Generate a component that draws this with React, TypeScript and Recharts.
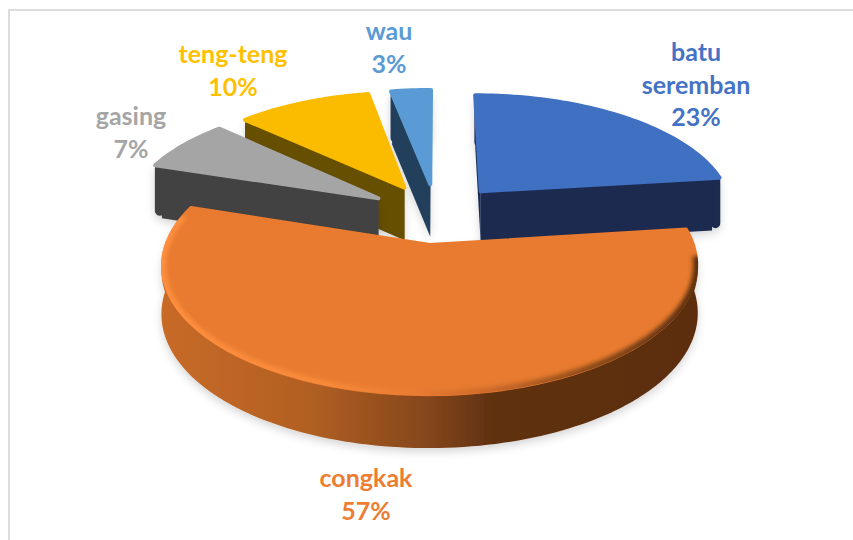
import React from "react";
import { PieChart, Pie } from "recharts";

const names = ["batu seremban", "wau", "teng-teng", "gasing", "congkak"];
const values = [23, 3, 10, 7, 57];
const topColors = ["#3f70c1", "#5b9bd5", "#fbbc00", "#a5a5a5", "#e87b30"];
const sideColors = ["#1a2c50", "#223f5c", "#664f00", "#434343", "url(#congkakSide)"];
const labelColors = ["#4472c4", "#5b9bd5", "#ffc000", "#a5a5a5", "#ed7d31"];
const labelLines = [["batu", "seremban"], ["wau"], ["teng-teng"], ["gasing"], ["congkak"]];
const labelX = [696, 389, 233, 131, 366];
const labelY = [61, 40, 63, 125, 487];

const table = names.map((name, i) => ({ name, value: values[i], fill: topColors[i] }));

const EXPLODE_X = 0.27;
const EXPLODE_Y = 0.26;
const PERSP = 0.15;
const TILT = 0.46;
const DEPTH = 53;
const RAD = Math.PI / 180;

type P = { x: number; y: number };

function SliceShape(props: any) {
  const { cx, cy, outerRadius: A, startAngle, endAngle, index } = props;
  const idx = typeof index === "number" ? index : names.indexOf(props.name);
  const a = 90 - startAngle;
  const b = 90 - endAngle;
  const lo = Math.min(a, b);
  const hi = Math.max(a, b);
  const mid = ((lo + hi) / 2) * RAD;
  const ex = EXPLODE_X * Math.sin(mid);
  const ey = EXPLODE_Y * Math.cos(mid);

  const project = (deg: number, r: number, drop = 0): P => {
    const X = r * Math.sin(deg * RAD) + ex;
    const Y = r * Math.cos(deg * RAD) + ey;
    const w = 1 + PERSP * Y;
    return {
      x: cx + (A * X) / w,
      y: cy - (A * TILT * Y) / w + drop * Math.pow(w, -0.3),
    };
  };
  const arc = (from: number, to: number, r: number, drop = 0): P[] => {
    const out: P[] = [];
    const n = Math.max(2, Math.ceil((to - from) / 1.5));
    for (let k = 0; k <= n; k++) out.push(project(from + ((to - from) * k) / n, r, drop));
    return out;
  };
  const d = (pts: P[], close = true) =>
    "M" + pts.map((p) => `${p.x.toFixed(2)} ${p.y.toFixed(2)}`).join("L") + (close ? "Z" : "");

  const EPS = 5;
  const dR = EPS / A;
  const dA = (EPS / A) / RAD;
  const fill = sideColors[idx];
  const topFill = topColors[idx];
  const isBig = hi - lo > 180;
  const topEps = 2;
  const topR = 1 - topEps / A;

  const top = [project(0, 0), ...arc(lo, hi, topR)];
  const full = [project(0, 0), ...arc(lo, hi, 1)];

  const wallTop = arc(lo + dA, hi - dA, 1 - dR, EPS);
  const wallBot = arc(lo + dA, hi - dA, 1 - dR, DEPTH - EPS);
  const wall = [...wallTop, ...wallBot.reverse()];

  const radial = (deg: number) => {
    const o = project(0, 0);
    const o2 = project(0, 0, DEPTH);
    const e = project(deg, 1 - 2 * dR);
    const e2 = project(deg, 1 - 2 * dR, DEPTH);
    return d([o, e, e2, o2]);
  };

  const clipId = `topClip${idx}`;
  return (
    <g>
      <defs>
        <filter id={`shadow${idx}`} x="-20%" y="-20%" width="140%" height="150%">
          <feDropShadow dx="0" dy="4" stdDeviation="4" floodColor="#000" floodOpacity="0.16" />
        </filter>
        <filter id="rimBlur" x="-5%" y="-5%" width="110%" height="110%">
          <feGaussianBlur stdDeviation="2" />
        </filter>
        <linearGradient id="congkakSide" gradientUnits="userSpaceOnUse" x1="162" x2="698" y1="0" y2="0">
          <stop offset="0" stopColor="#c86a27" />
          <stop offset="0.27" stopColor="#b26023" />
          <stop offset="0.5" stopColor="#84461b" />
          <stop offset="0.62" stopColor="#5e3010" />
          <stop offset="1" stopColor="#5c2f10" />
        </linearGradient>
        <linearGradient id="congkakRim" gradientUnits="userSpaceOnUse" x1="162" x2="698" y1="0" y2="0">
          <stop offset="0" stopColor="#ff8f3f" />
          <stop offset="0.3" stopColor="#f88a3b" />
          <stop offset="0.48" stopColor="#e87b30" />
          <stop offset="0.62" stopColor="#c9682a" />
          <stop offset="0.8" stopColor="#8a4a18" />
          <stop offset="1" stopColor="#5c2f10" />
        </linearGradient>
        <clipPath id={clipId}>
          <path d={d(full)} />
        </clipPath>
      </defs>
      <g filter={`url(#shadow${idx})`}>
        <path d={d(wall)} fill={fill} stroke={fill} strokeWidth={EPS * 2} strokeLinejoin="round" />
        <path d={radial(lo)} fill={fill} />
        <path d={radial(hi)} fill={fill} />
      </g>
      <path d={d(top)} fill={topFill} stroke={topFill} strokeWidth={topEps * 2} strokeLinejoin="round" />
      {isBig ? (
        <g clipPath={`url(#${clipId})`}>
          <path
            d={d(arc(lo + 12, hi - 4, 1), false)}
            fill="none"
            stroke="url(#congkakRim)"
            strokeWidth={10}
            filter="url(#rimBlur)"
          />
        </g>
      ) : null}
    </g>
  );
}

function SliceLabel(props: any) {
  const idx = typeof props.index === "number" ? props.index : names.indexOf(props.name);
  const lines = [...labelLines[idx], `${values[idx]}%`];
  return (
    <text
      x={labelX[idx]}
      y={labelY[idx]}
      textAnchor="middle"
      fill={labelColors[idx]}
      fontFamily="Lato, sans-serif"
      fontWeight={700}
      fontSize={25}
    >
      {lines.map((t, i) => (
        <tspan key={i} x={labelX[idx]} y={labelY[idx] + i * 32.5}>
          {t}
        </tspan>
      ))}
    </text>
  );
}

export default function App() {
  return (
    <div style={{ position: "absolute", left: 0, top: 0, width: 853, height: 540, background: "#fff", overflow: "hidden" }}>
      <div
        style={{
          position: "absolute",
          left: 8,
          top: 9,
          width: 845,
          height: 531,
          borderLeft: "2px solid #dcdcdc",
          borderTop: "2px solid #dcdcdc",
          boxSizing: "border-box",
        }}
      />
      <div style={{ position: "absolute", left: 0, top: 0 }}>
        <PieChart width={853} height={540} margin={{ top: 0, right: 0, bottom: 0, left: 0 }}>
          <Pie
            data={table}
            dataKey="value"
            nameKey="name"
            cx={436.5}
            cy={213.5}
            innerRadius={0}
            outerRadius={255}
            startAngle={7.2}
            endAngle={367.2}
            paddingAngle={0}
            stroke="none"
            isAnimationActive={false}
            shape={SliceShape}
            label={SliceLabel}
            labelLine={false}
          />
        </PieChart>
      </div>
    </div>
  );
}
